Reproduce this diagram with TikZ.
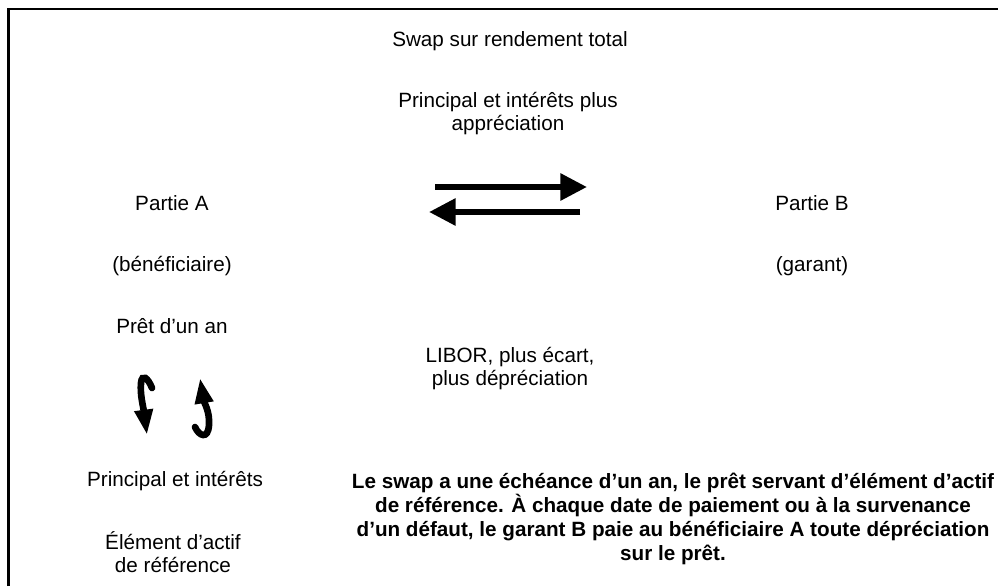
\documentclass[tikz,border=0pt]{standalone}
\usepackage{fontspec}
\setmainfont{Liberation Sans}
\usetikzlibrary{arrows.meta}
\newcommand\tightlead{\lineskiplimit=-20pt\relax\lineskip=0pt\relax}
\begin{document}
\begin{tikzpicture}[x=0.75pt,y=-0.75pt,
  lbl/.style={font=\fontsize{15.5}{17.25}\selectfont, align=center, inner sep=0pt, anchor=base},
  note/.style={font=\fontsize{15.5}{18}\selectfont\bfseries\tightlead, align=center, inner sep=0pt, anchor=base},
  flow/.style={line width=4.5pt, -{Triangle[length=20pt,width=19.5pt]}},
  curl/.style={line width=5pt, line cap=round, -{Triangle[length=19pt,width=13pt]}},
  frame/.style={line width=1.6pt}]
\useasboundingbox (0,0) rectangle (998,586);
\draw[frame] (8.5,586) -- (8.5,9) -- (998,9);

\node[lbl] (title) at (510,46) {Swap sur rendement total};
\node[lbl] (top) at (508,130) {Principal et intérêts plus\\appréciation};
\node[lbl] (pa) at (172,210) {Partie A};
\node[lbl] (pb) at (812,210) {Partie B};
\node[lbl] (benef) at (172,271) {(bénéficiaire)};
\node[lbl] (garant) at (812,271) {(garant)};
\node[lbl] (pret) at (172,333) {Prêt d’un an};
\node[lbl] (libor) at (510,385) {LIBOR, plus écart,\\plus dépréciation};
\node[lbl] (pi) at (175,486) {Principal et intérêts};
\node[lbl] (elem) at (173,572) {Élément d’actif\\de référence};
\node[note] (expl) at (673,560) {Le swap a une échéance d’un an, le prêt servant d’élément d’actif\\de référence. À chaque date de paiement ou à la survenance\\d’un défaut, le garant B paie au bénéficiaire A toute dépréciation\\sur le prêt.};

\coordinate (r1) at (435,187);
\coordinate (r2) at (587,187);
\coordinate (l1) at (580,212);
\coordinate (l2) at (429,212);
\draw[flow] (r1) -- (r2);
\draw[flow] (l1) -- (l2);

\coordinate (c1s) at (152,388);
\coordinate (c1e) at (147,435);
\coordinate (c2s) at (195,427);
\coordinate (c2e) at (200,378);
\draw[curl] (c1s) .. controls (148,378) and (142,373) .. (141,383) .. controls (140,395) and (143,405) .. (c1e);
\draw[curl] (c2s) .. controls (199,436) and (208,440) .. (209,425) .. controls (210,412) and (204,402) .. (c2e);
\end{tikzpicture}
\end{document}
